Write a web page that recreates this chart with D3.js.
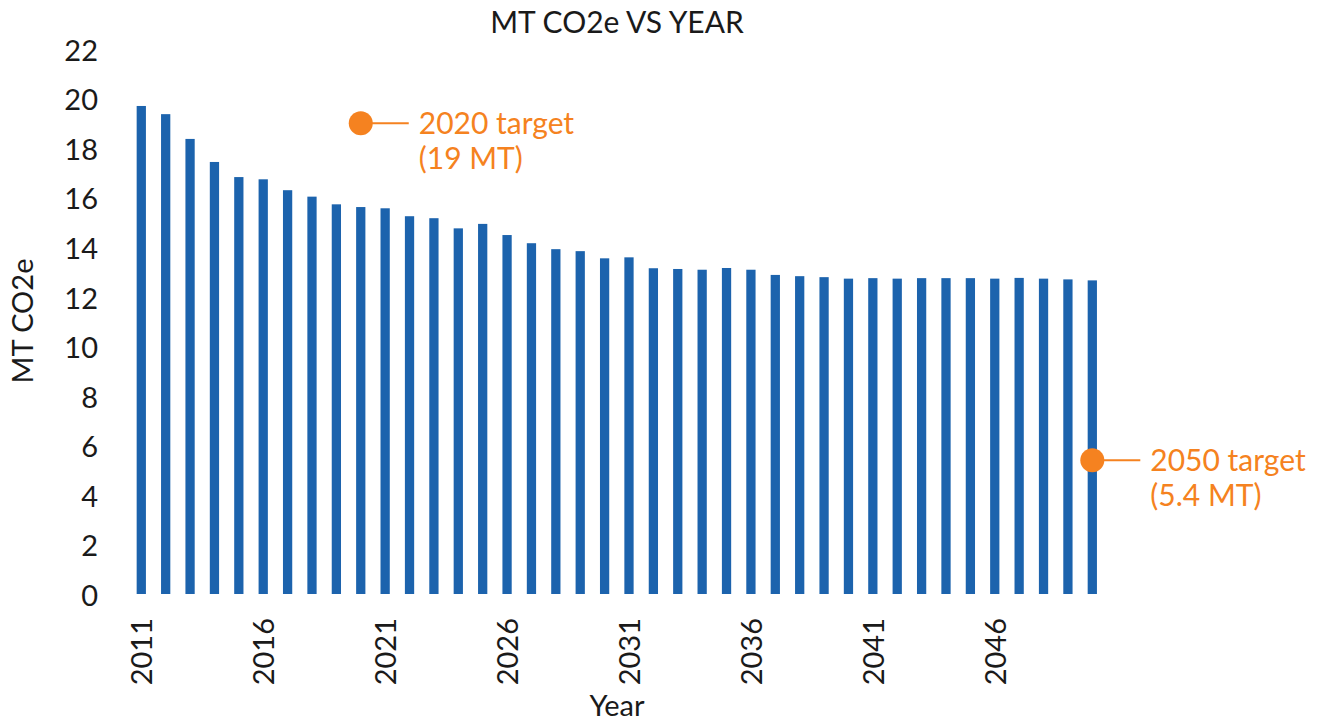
<!DOCTYPE html>
<html>
<head>
<meta charset="utf-8">
<script src="https://cdn.jsdelivr.net/npm/d3@7"></script>
<style>
  body { margin: 0; background: #fff; }
  svg { display: block; font-family: Lato, "Noto Sans", sans-serif; }
</style>
</head>
<body>
<svg></svg>
<script>
// Constants
const width = 1319;
const height = 721;

const barColor = '#1c63ad';
const targetColor = '#f58220';
const textColor = '#1a1a1a';

// data
const years = d3.range(2011, 2051);
const emissions = [
    19.70, 19.37, 18.37, 17.44, 16.83, 16.74, 16.30, 16.04, 15.73, 15.62,
    15.57, 15.25, 15.17, 14.76, 14.94, 14.49, 14.16, 13.92, 13.84, 13.55,
    13.59, 13.15, 13.12, 13.09, 13.16, 13.09, 12.88, 12.83, 12.79, 12.73,
    12.75, 12.73, 12.75, 12.75, 12.75, 12.73, 12.76, 12.73, 12.70, 12.66
];
const yTicks = [0, 2, 4, 6, 8, 10, 12, 14, 16, 18, 20, 22];
const xTickYears = [2011, 2016, 2021, 2026, 2031, 2036, 2041, 2046];

const targetYears = [2020, 2050];
const targetValues = [19, 5.4];
const targetLabels = [['2020 target', '(19 MT)'], ['2050 target', '(5.4 MT)']];

// svg
const svg = d3.select('svg')
    .attr('width', width)
    .attr('height', height);

// scales
const xScale = d3.scaleBand()
    .domain(years)
    .range([129.1, 1104.5])
    .paddingInner(0.62)
    .paddingOuter(0.31);

const yScale = d3.scaleLinear()
    .domain([0, 22])
    .range([594, 49]);

// yAxis
const yAxis = d3.axisLeft(yScale)
    .tickValues(yTicks)
    .tickSize(0)
    .tickPadding(0);

svg.append('g')
    .attr('transform', 'translate(98, 2)')
    .call(yAxis)
    .call(g => g.select('.domain').remove())
    .selectAll('text')
    .attr('fill', textColor)
    .style('font-family', 'Lato, "Noto Sans", sans-serif')
    .style('font-size', '29px');

// xAxis
const xAxis = d3.axisBottom(xScale)
    .tickValues(xTickYears)
    .tickSize(0)
    .tickFormat(d => String(d));

svg.append('g')
    .attr('transform', 'translate(0, 594)')
    .call(xAxis)
    .call(g => g.select('.domain').remove())
    .selectAll('text')
    .attr('fill', textColor)
    .style('font-family', 'Lato, "Noto Sans", sans-serif')
    .style('font-size', '29px')
    .attr('text-anchor', 'end')
    .attr('transform', 'rotate(-90)')
    .attr('x', -24)
    .attr('y', 0)
    .attr('dy', '0.38em');

// bars
svg.append('g')
    .selectAll('rect')
    .data(years)
    .enter().append('rect')
    .attr('x', d => xScale(d))
    .attr('y', (d, i) => yScale(emissions[i]))
    .attr('width', xScale.bandwidth())
    .attr('height', (d, i) => yScale(0) - yScale(emissions[i]))
    .attr('fill', barColor);

// targets
const targets = svg.append('g')
    .selectAll('g')
    .data(targetYears)
    .enter().append('g')
    .attr('transform', (d, i) => `translate(${xScale(d) + xScale.bandwidth() / 2}, ${yScale(targetValues[i])})`);

targets.append('line')
    .attr('x1', 0)
    .attr('x2', 48)
    .attr('stroke', targetColor)
    .attr('stroke-width', 2);

targets.append('circle')
    .attr('r', 12)
    .attr('fill', targetColor);

targets.append('text')
    .attr('fill', targetColor)
    .style('font-size', '30px')
    .selectAll('tspan')
    .data((d, i) => targetLabels[i])
    .enter().append('tspan')
    .attr('x', 58)
    .attr('y', (d, i) => 11 + i * 35)
    .text(d => d);

// titles
svg.append('text')
    .attr('x', 617)
    .attr('y', 33)
    .attr('text-anchor', 'middle')
    .attr('fill', textColor)
    .style('font-size', '30px')
    .text('MT CO2e VS YEAR');

svg.append('text')
    .attr('transform', 'translate(33, 321) rotate(-90)')
    .attr('text-anchor', 'middle')
    .attr('fill', textColor)
    .style('font-size', '29px')
    .text('MT CO2e');

svg.append('text')
    .attr('x', 617)
    .attr('y', 716)
    .attr('text-anchor', 'middle')
    .attr('fill', textColor)
    .style('font-size', '29px')
    .text('Year');
</script>
</body>
</html>
